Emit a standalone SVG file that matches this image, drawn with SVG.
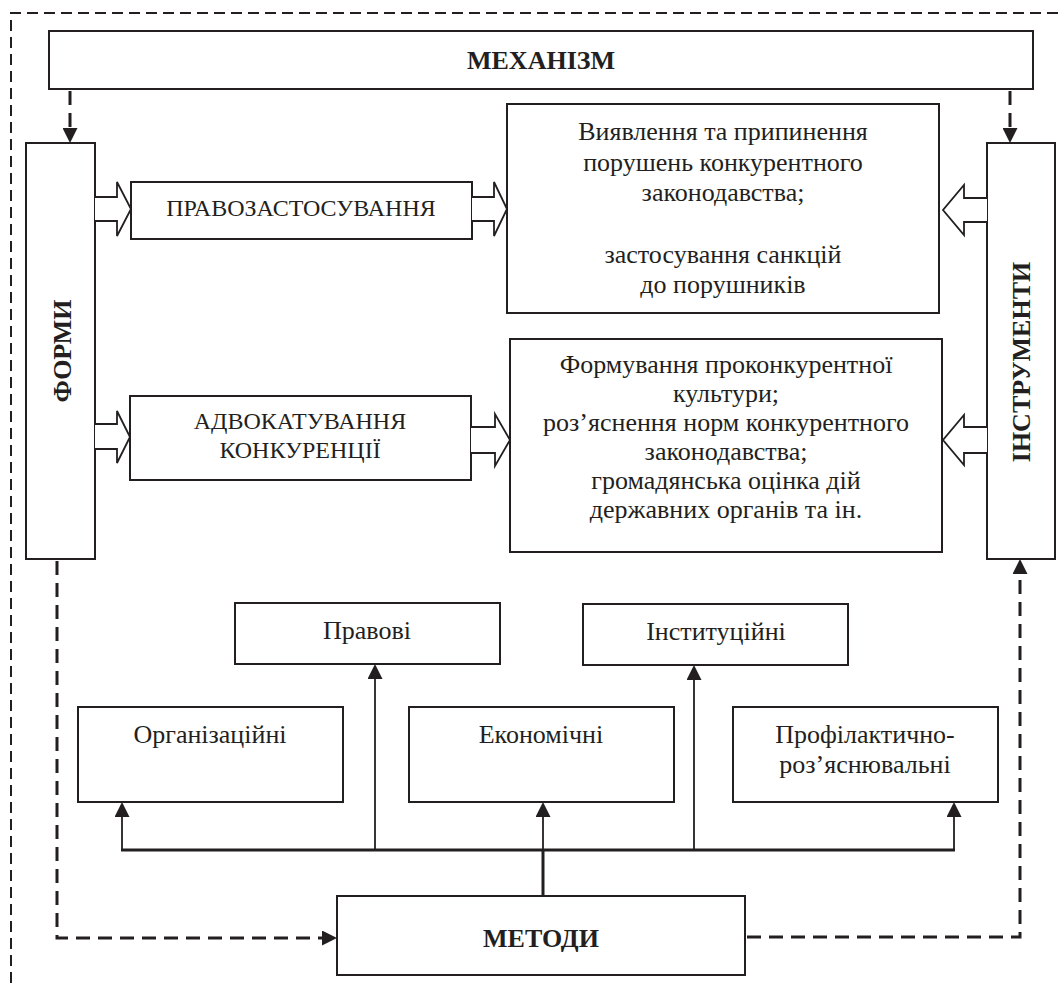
<svg xmlns="http://www.w3.org/2000/svg" width="1060" height="983" viewBox="0 0 1060 983">
<style>
.box{fill:#fff;stroke:#231f20;stroke-width:2}
.blk{fill:#fff;stroke:#231f20;stroke-width:1.8;stroke-linejoin:miter}
.t{font-family:"Liberation Serif","Times New Roman",serif;font-size:26px;fill:#231f20;text-anchor:middle}
.u{font-size:24px}
.b{font-weight:bold}
.dash{fill:none;stroke:#231f20;stroke-width:3;stroke-dasharray:14 8}
.outer{fill:none;stroke:#231f20;stroke-width:2;stroke-dasharray:11 6}
.sol{fill:none;stroke:#231f20;stroke-width:1.8}
.bus{fill:none;stroke:#231f20;stroke-width:3}
</style>
<defs>
<marker id="ah" viewBox="0 0 15 15" refX="0" refY="7.5" markerWidth="15" markerHeight="15" markerUnits="userSpaceOnUse" orient="auto">
<path d="M0,0 L15,7.5 L0,15 Z" fill="#231f20"/>
</marker>
</defs>
<rect width="1060" height="983" fill="#fff"/>
<path class="outer" d="M11,1000 V13 H1070"/>

<g id="mechanism">
<rect class="box" x="49" y="31" width="984" height="58"/>
<text class="t b" x="541" y="69">МЕХАНІЗМ</text>
</g>

<g id="formy">
<rect class="box" x="26" y="143" width="69" height="416"/>
<text class="t b" transform="translate(71,351) rotate(-90)">ФОРМИ</text>
</g>

<g id="instrumenty">
<rect class="box" x="987" y="143" width="68" height="416"/>
<text class="t b" transform="translate(1030,362) rotate(-90)">ІНСТРУМЕНТИ</text>
</g>

<g id="pravozastosuvannia">
<rect class="box" x="131" y="182" width="341" height="57"/>
<text class="t u" x="301" y="216">ПРАВОЗАСТОСУВАННЯ</text>
</g>

<g id="advokatuvannia">
<rect class="box" x="130" y="396" width="341" height="84"/>
<text class="t u" x="300" y="429">АДВОКАТУВАННЯ</text>
<text class="t u" x="300" y="458">КОНКУРЕНЦІЇ</text>
</g>

<g id="result1">
<rect class="box" x="507" y="104" width="432" height="209"/>
<text class="t" x="723" y="140">Виявлення та припинення</text>
<text class="t" x="723" y="171">порушень конкурентного</text>
<text class="t" x="723" y="201">законодавства;</text>
<text class="t" x="723" y="263">застосування санкцій</text>
<text class="t" x="723" y="293">до порушників</text>
</g>

<g id="result2">
<rect class="box" x="510" y="339" width="432" height="213"/>
<text class="t" x="726" y="373">Формування проконкурентної</text>
<text class="t" x="726" y="402">культури;</text>
<text class="t" x="726" y="431">роз’яснення норм конкурентного</text>
<text class="t" x="726" y="460">законодавства;</text>
<text class="t" x="726" y="489">громадянська оцінка дій</text>
<text class="t" x="726" y="518">державних органів та ін.</text>
</g>

<g id="pravovi">
<rect class="box" x="235" y="603" width="265" height="61"/>
<text class="t" x="367" y="639">Правові</text>
</g>
<g id="instytutsiini">
<rect class="box" x="583" y="604" width="265" height="61"/>
<text class="t" x="716" y="640">Інституційні</text>
</g>
<g id="orhanizatsiini">
<rect class="box" x="78" y="707" width="265" height="95"/>
<text class="t" x="210" y="743">Організаційні</text>
</g>
<g id="ekonomichni">
<rect class="box" x="409" y="707" width="265" height="95"/>
<text class="t" x="541" y="743">Економічні</text>
</g>
<g id="profilaktychni">
<rect class="box" x="733" y="707" width="265" height="95"/>
<text class="t" x="865" y="743">Профілактично-</text>
<text class="t" x="865" y="773">роз’яснювальні</text>
</g>

<g id="metody">
<rect class="box" x="337" y="896" width="408" height="79"/>
<text class="t b" x="541" y="947">МЕТОДИ</text>
</g>

<g id="connectors">
<path class="dash" d="M70,91 V128" marker-end="url(#ah)"/>
<path class="dash" d="M1010,91 V128" marker-end="url(#ah)"/>
<path class="dash" d="M57,561 V938 H322" marker-end="url(#ah)"/>
<path class="dash" d="M747,937 H1020 V574" marker-end="url(#ah)"/>

<path class="bl blk" d="M95,197 H117 V182 L131,209 L117,236 V221 H95"/>
<path class="blk" d="M472,197 H494 V182 L507,209 L494,236 V221 H472"/>
<path class="blk" d="M987,198 H964 V185 L943,210 L964,235 V222 H987"/>
<path class="blk" d="M95,424 H117 V411 L130,437 L117,463 V449 H95"/>
<path class="blk" d="M471,427 H495 V414 L510,440 L495,466 V453 H471"/>
<path class="blk" d="M987,427 H964 V415 L943,440 L964,465 V453 H987"/>

<path class="bus" d="M121,850 H955"/>
<path class="bus" d="M543,850 V896"/>
<path class="sol" d="M122,850 V817" marker-end="url(#ah)"/>
<path class="sol" d="M375,850 V679" marker-end="url(#ah)"/>
<path class="sol" d="M543,850 V817" marker-end="url(#ah)"/>
<path class="sol" d="M694,850 V680" marker-end="url(#ah)"/>
<path class="sol" d="M954,850 V817" marker-end="url(#ah)"/>
</g>
</svg>
